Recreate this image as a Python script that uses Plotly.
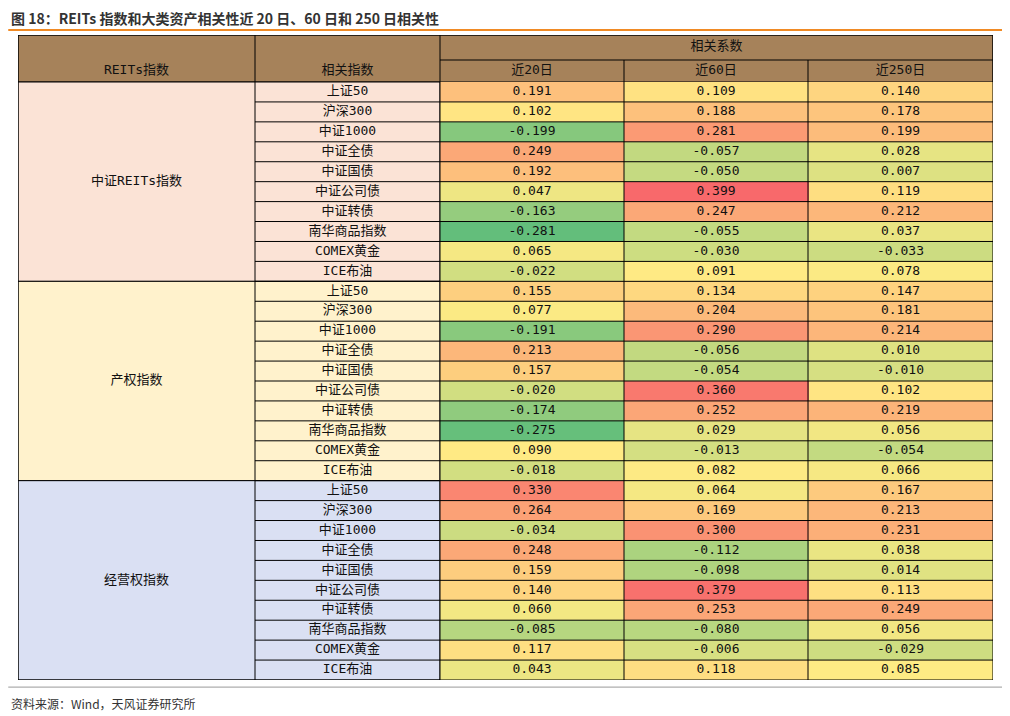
import numpy as np
import plotly.graph_objects as go

groups = ["中证REITs指数", "产权指数", "经营权指数"]
group_fills = ["#FBE3D6", "#FFF2CC", "#DAE0F3"]
assets = ["上证50", "沪深300", "中证1000", "中证全债", "中证国债", "中证公司债",
          "中证转债", "南华商品指数", "COMEX黄金", "ICE布油"]
periods = ["近20日", "近60日", "近250日"]

reits = [[0.191, 0.109, 0.140], [0.102, 0.188, 0.178], [-0.199, 0.281, 0.199],
         [0.249, -0.057, 0.028], [0.192, -0.050, 0.007], [0.047, 0.399, 0.119],
         [-0.163, 0.247, 0.212], [-0.281, -0.055, 0.037], [0.065, -0.030, -0.033],
         [-0.022, 0.091, 0.078]]
chanquan = [[0.155, 0.134, 0.147], [0.077, 0.204, 0.181], [-0.191, 0.290, 0.214],
            [0.213, -0.056, 0.010], [0.157, -0.054, -0.010], [-0.020, 0.360, 0.102],
            [-0.174, 0.252, 0.219], [-0.275, 0.029, 0.056], [0.090, -0.013, -0.054],
            [-0.018, 0.082, 0.066]]
jingying = [[0.330, 0.064, 0.167], [0.264, 0.169, 0.213], [-0.034, 0.300, 0.231],
            [0.248, -0.112, 0.038], [0.159, -0.098, 0.014], [0.140, 0.379, 0.113],
            [0.060, 0.253, 0.249], [-0.085, -0.080, 0.056], [0.117, -0.006, -0.029],
            [0.043, 0.118, 0.085]]

z = np.array(reits + chanquan + jingying)
nrows = z.shape[0]

# layout in pixel-like units
xe = [18, 255, 440, 624, 808, 993]
y_top, y_mid, y_data = 35, 60, 82
y_bot = 680
rh = (y_bot - y_data) / nrows
ye = [y_data + i * rh for i in range(nrows + 1)]
yc = [y_data + (i + 0.5) * rh for i in range(nrows)]

zmin, zmax = z.min(), z.max()
mid = (np.median(z) - zmin) / (zmax - zmin)
cs = [[0, "#63BE7B"], [mid, "#FFEB84"], [1, "#F8696B"]]

font = dict(family="DejaVu Sans Mono, Noto Sans CJK SC", size=13, color="#111")
fig = go.Figure()
fig.add_trace(go.Heatmap(x=xe[2:], y=ye, z=z, colorscale=cs, zmin=zmin, zmax=zmax,
                         showscale=False, hoverinfo="skip"))

shapes = []
line = dict(color="black", width=1)
# header
shapes.append(dict(type="rect", x0=xe[0], x1=xe[-1], y0=y_top, y1=y_data,
                   fillcolor="#A6825A", line=line, layer="below"))
shapes.append(dict(type="line", x0=xe[2], x1=xe[-1], y0=y_mid, y1=y_mid, line=line))
for x in xe[1:-1]:
    shapes.append(dict(type="line", x0=x, x1=x, y0=y_top if x < xe[2] + 1 else y_mid,
                       y1=y_bot, line=line))
# group backgrounds
for g in range(3):
    a, b = ye[g * 10], ye[(g + 1) * 10]
    shapes.append(dict(type="rect", x0=xe[0], x1=xe[2], y0=a, y1=b,
                       fillcolor=group_fills[g], line=line, layer="below"))
for i in range(1, nrows):
    shapes.append(dict(type="line", x0=xe[1], x1=xe[-1], y0=ye[i], y1=ye[i], line=line))
shapes.append(dict(type="rect", x0=xe[0], x1=xe[-1], y0=y_top, y1=y_bot, line=line))
# title / source rules
shapes.append(dict(type="line", xref="paper", yref="paper", x0=-0.01, x1=1.012,
                   y0=1.0078, y1=1.0078, line=dict(color="#F08A24", width=2)))
shapes.append(dict(type="line", xref="paper", yref="paper", x0=-0.01, x1=1.012,
                   y0=-0.011, y1=-0.011, line=dict(color="#999", width=1)))

xc = [(xe[i] + xe[i + 1]) / 2 for i in range(5)]
txt = [f"{v:.3f}" for row in z for v in row]
fig.add_trace(go.Scatter(x=[xc[2 + j] for i in range(nrows) for j in range(3)],
                         y=[yc[i] for i in range(nrows) for j in range(3)],
                         text=txt, mode="text", textfont=font, hoverinfo="skip"))
fig.add_trace(go.Scatter(x=[xc[1]] * nrows, y=yc, text=assets * 3, mode="text",
                         textfont=font, hoverinfo="skip"))
fig.add_trace(go.Scatter(x=[xc[0]] * 3, y=[(ye[g * 10] + ye[g * 10 + 10]) / 2 for g in range(3)],
                         text=groups, mode="text", textfont=font, hoverinfo="skip"))
hx = [xc[0], xc[1]] + xc[2:] + [(xe[2] + xe[-1]) / 2]
hy = [71, 71, 71, 71, 71, 47]
fig.add_trace(go.Scatter(x=hx, y=hy, text=["REITs指数", "相关指数"] + periods + ["相关系数"],
                         mode="text", textfont=font, hoverinfo="skip"))

fig.update_layout(
    width=1000, height=708, margin=dict(l=10, r=15, t=27, b=36),
    plot_bgcolor="white", paper_bgcolor="white", showlegend=False, shapes=shapes,
    xaxis=dict(range=[xe[0], xe[-1]], visible=False, fixedrange=True),
    yaxis=dict(range=[y_bot, y_top], visible=False, fixedrange=True),
    annotations=[
        dict(text="<b>图 18：REITs 指数和大类资产相关性近 20 日、60 日和 250 日相关性</b>",
             xref="paper", yref="paper", x=-0.009, y=1.026, xanchor="left", yanchor="middle",
             showarrow=False, font=dict(family="Noto Sans CJK SC", size=14, color="#333")),
        dict(text="资料来源：Wind，天风证券研究所", xref="paper", yref="paper", x=-0.009,
             y=-0.0357, xanchor="left", yanchor="middle", showarrow=False,
             font=dict(family="Noto Sans CJK SC", size=12, color="#333")),
    ],
)
fig.write_html("out.html")
